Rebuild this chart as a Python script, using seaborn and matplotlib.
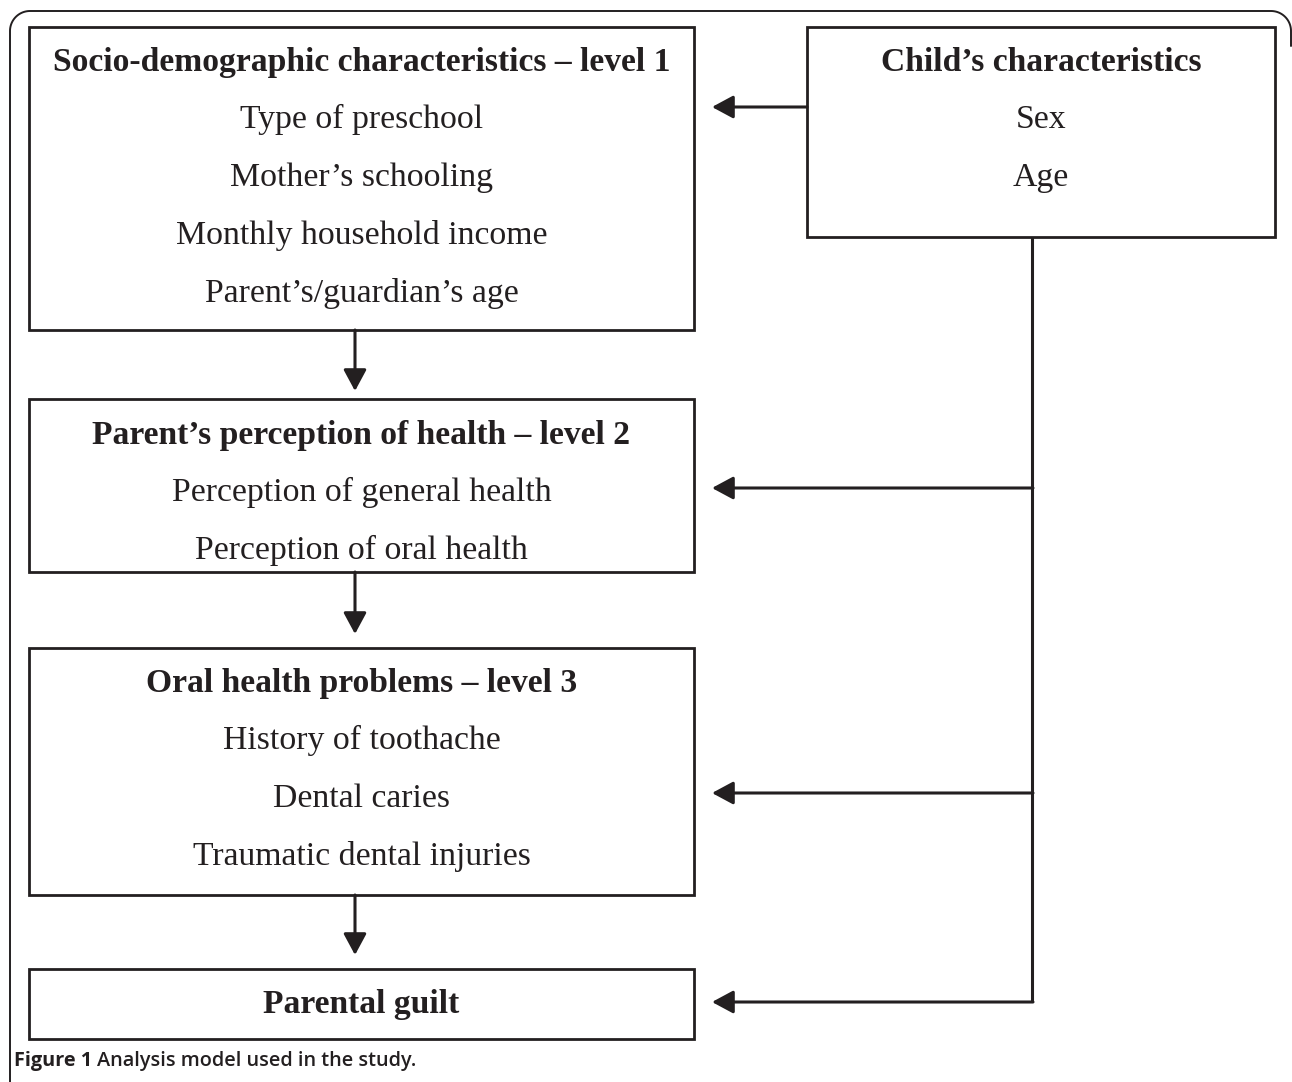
import matplotlib
matplotlib.use("Agg")
import matplotlib.pyplot as plt
from matplotlib.patches import Rectangle
import numpy as np
import seaborn as sns

# ---- content ----
level_titles = [
    "Socio-demographic characteristics \u2013 level 1",
    "Parent\u2019s perception of health \u2013 level 2",
    "Oral health problems \u2013 level 3",
    "Parental guilt",
]
level_items = [
    ["Type of preschool", "Mother\u2019s schooling", "Monthly household income",
     "Parent\u2019s/guardian\u2019s age"],
    ["Perception of general health", "Perception of oral health"],
    ["History of toothache", "Dental caries", "Traumatic dental injuries"],
    [],
]
child_title = "Child\u2019s characteristics"
child_items = ["Sex", "Age"]
caption_label = "Figure 1"
caption_text = "Analysis model used in the study."

# ---- layout (pixels, y downward) ----
W, H = 1292, 1082
box_x0, box_x1 = 29, 694
level_y = [(27, 330), (399, 572), (648, 895), (969, 1039)]
level_title_y = [60, 433, 681, 1002]
item_step = 58
child_box = (807, 27, 1275, 237)
child_title_y = 60
trunk_x = 1032
side_arrow_y = [488, 793, 1002]
tip_x = 712
down_x = 355
ink = "#231f20"

sns.set_style("white")
plt.rcParams["font.family"] = ["Liberation Serif", "DejaVu Serif"]

fig = plt.figure(figsize=(W / 100, H / 100), dpi=100)
ax = fig.add_axes([0, 0, 1, 1])
ax.set_xlim(0, W)
ax.set_ylim(H, 0)
ax.axis("off")

# outer frame: left side, rounded top corners, top edge; right side leaves image
r = 20
fl, ft, fr = 10, 11, 1291
t = np.linspace(0, np.pi / 2, 30)
arc_l_x = fl + r - r * np.cos(t)
arc_l_y = ft + r - r * np.sin(t)
arc_r_x = fr - r + r * np.sin(t)
arc_r_y = ft + r - r * np.cos(t)
fx = np.concatenate([[fl], arc_l_x, arc_r_x, [fr]])
fy = np.concatenate([[H + 5], arc_l_y, arc_r_y, [ft + r + 15]])
ax.plot(fx, fy, color=ink, lw=1.4, solid_joinstyle="round")

box_lw = 2.0
fs_title = 24.2
fs_item = 24.3
off = 11  # baseline offset from visual center

def draw_box(x0, y0, x1, y1):
    ax.add_patch(Rectangle((x0, y0), x1 - x0, y1 - y0, fill=False,
                           ec=ink, lw=box_lw, joinstyle="miter"))

cx = (box_x0 + box_x1) / 2
for (y0, y1), title, items, ty in zip(level_y, level_titles, level_items, level_title_y):
    draw_box(box_x0, y0, box_x1, y1)
    ax.text(cx, ty + off, title, ha="center", va="baseline", fontsize=fs_title,
            fontweight="bold", color=ink)
    for i, it in enumerate(items):
        ax.text(cx, ty + off + item_step * (i + 1) - 1, it, ha="center",
                va="baseline", fontsize=fs_item, color=ink)

# child box
draw_box(*child_box)
ccx = (child_box[0] + child_box[2]) / 2
ax.text(ccx, child_title_y + off, child_title, ha="center", va="baseline",
        fontsize=fs_title, fontweight="bold", color=ink)
for i, it in enumerate(child_items):
    ax.text(ccx, child_title_y + off + item_step * (i + 1) - 1, it, ha="center",
            va="baseline", fontsize=fs_item, color=ink)

arrow_kw = dict(arrowstyle="-|>,head_length=0.65,head_width=0.35",
                mutation_scale=20, lw=2.2, color=ink, shrinkA=0, shrinkB=0)

def arrow(x0, y0, x1, y1):
    ax.annotate("", xy=(x1, y1), xytext=(x0, y0), arrowprops=arrow_kw)

# child -> level 1
arrow(child_box[0], 107, tip_x, 107)
# trunk
ax.plot([trunk_x, trunk_x], [child_box[3], side_arrow_y[-1]], color=ink,
        lw=2.2, solid_capstyle="butt")
for y in side_arrow_y:
    arrow(trunk_x + 1, y, tip_x, y)

# down arrows
tips = [391, 634, 955]
for (y0, y1), tp in zip(level_y[:-1], tips):
    arrow(down_x, y1, down_x, tp)

# caption
cap_fs = 14.3
t1 = ax.text(14, 1066, caption_label + " ", ha="left", va="baseline",
             fontsize=cap_fs, fontweight="bold", color=ink,
             family=["Open Sans", "DejaVu Sans"])
fig.canvas.draw()
bb = t1.get_window_extent()
x_after = bb.x1
ax.text(x_after, H - 1066, caption_text, ha="left", va="baseline",
        fontsize=cap_fs, fontweight="semibold", color=ink,
        family=["Open Sans", "DejaVu Sans"], transform=None)

fig.savefig("out.png", dpi=100, facecolor="white")
